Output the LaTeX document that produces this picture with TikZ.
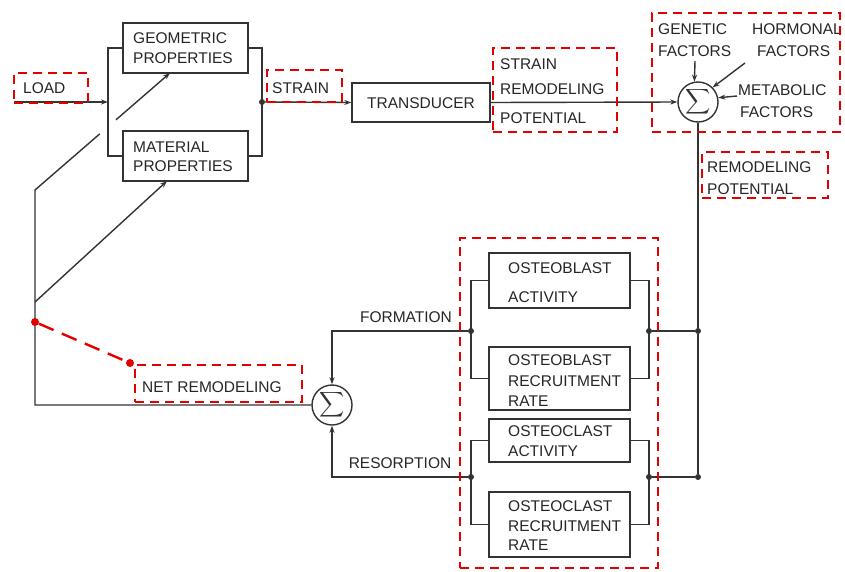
\documentclass[tikz,border=0pt]{standalone}
\usepackage{graphicx}
\usepackage{fontspec}
\setmainfont{Liberation Sans}
\usetikzlibrary{arrows.meta,calc}
\newcommand{\bigsum}{\scalebox{1.75}{$\displaystyle\sum$}}
\begin{document}
\begin{tikzpicture}[x=1pt,y=-1pt,
  ln/.style={draw=black!80, line width=1.4pt},
  arr/.style={ln, -{Stealth[length=7pt,width=5pt]}},
  blk/.style={draw=black!80, line width=1.4pt, rectangle, inner sep=0pt},
  lbl/.style={text=black!85, font=\fontsize{15.5}{15.5}\selectfont, anchor=west, inner sep=0pt},
  redbox/.style={draw=red!90!black, line width=2.4pt, dash pattern=on 9pt off 6pt, rectangle, inner sep=0pt},
  sumnode/.style={circle, draw=black!80, line width=1.4pt, minimum size=40pt, inner sep=0pt, text=black!80},
  jdot/.style={circle, fill=black!80, minimum size=6pt, inner sep=0pt},
  rdot/.style={circle, fill=red!90!black, minimum size=8pt, inner sep=0pt}]
\useasboundingbox (0,0) rectangle (845,571);

% ---------- top row blocks ----------
\node[blk, minimum width=125pt, minimum height=50pt] (geo) at (185.5,48) {};
\node[lbl] (geo1) at (133,38) {GEOMETRIC};
\node[lbl] (geo2) at (133,58) {PROPERTIES};
\node[blk, minimum width=125pt, minimum height=50pt] (mat) at (185.5,156) {};
\node[lbl] (mat1) at (133,147) {MATERIAL};
\node[lbl] (mat2) at (133,166) {PROPERTIES};
\node[blk, minimum width=138pt, minimum height=39pt] (tra) at (421,102.5) {};
\node[text=black!85, font=\fontsize{15.5}{15.5}\selectfont, inner sep=0pt] (tra1) at (421,103) {TRANSDUCER};
\node[sumnode] (s1) at (698,102) {};
\node[inner sep=0pt, text=black!80] (s1t) at (698,102) {\bigsum};

\coordinate (lb1) at (108,48);
\coordinate (lb2) at (108,156);
\coordinate (lbm) at (108,102);
\coordinate (rb1) at (262,48);
\coordinate (rb2) at (262,156);
\node[jdot] (jr) at (262,102) {};
\coordinate (loadstart) at (14,102);

\draw[ln] (geo.west) -- (lb1) -- (lb2) -- (mat.west);
\draw[ln] (geo.east) -- (rb1) -- (rb2) -- (mat.east);
\draw[arr] (loadstart) -- (lbm);
\draw[arr] (jr) -- (tra.west);
\draw[arr] (tra.east) -- (s1.west);

% factors
\node[lbl] (gen1) at (658,29) {GENETIC};
\node[lbl] (gen2) at (658,51) {FACTORS};
\node[lbl] (hor1) at (752,29) {HORMONAL};
\node[lbl] (hor2) at (757,51) {FACTORS};
\node[lbl] (met1) at (738,90) {METABOLIC};
\node[lbl] (met2) at (740,112) {FACTORS};
\coordinate (ga) at (695,61);
\coordinate (ha) at (745,63);
\coordinate (ma) at (737,96);
\draw[arr] (ga) -- (s1.100);
\draw[arr] (ha) -- (s1.45);
\draw[arr] (ma) -- (s1.12);

% labels with red boxes (top)
\node[lbl] (loadt) at (23,88) {LOAD};
\node[lbl] (straint) at (272,88) {STRAIN};
\node[lbl] (srp1) at (500,64) {STRAIN};
\node[lbl] (srp2) at (500,89) {REMODELING};
\node[lbl] (srp3) at (500,118) {POTENTIAL};
\node[lbl] (rp1) at (707,167) {REMODELING};
\node[lbl] (rp2) at (707,189) {POTENTIAL};

% ---------- lower part ----------
\node[blk, minimum width=141pt, minimum height=55pt] (ob1) at (559.5,280.5) {};
\node[lbl] (ob1a) at (508,268) {OSTEOBLAST};
\node[lbl] (ob1b) at (508,297) {ACTIVITY};
\node[blk, minimum width=141pt, minimum height=63pt] (ob2) at (559.5,378.5) {};
\node[lbl] (ob2a) at (508,360) {OSTEOBLAST};
\node[lbl] (ob2b) at (508,381) {RECRUITMENT};
\node[lbl] (ob2c) at (508,401) {RATE};
\node[blk, minimum width=141pt, minimum height=43pt] (oc1) at (559.5,440.5) {};
\node[lbl] (oc1a) at (508,431) {OSTEOCLAST};
\node[lbl] (oc1b) at (508,451) {ACTIVITY};
\node[blk, minimum width=141pt, minimum height=65pt] (oc2) at (559.5,524.5) {};
\node[lbl] (oc2a) at (508,506) {OSTEOCLAST};
\node[lbl] (oc2b) at (508,526) {RECRUITMENT};
\node[lbl] (oc2c) at (508,545) {RATE};

\coordinate (bl1) at (471,280.5);
\coordinate (bl2) at (471,378.5);
\coordinate (br1) at (649,280.5);
\coordinate (br2) at (649,378.5);
\coordinate (cl1) at (471,440.5);
\coordinate (cl2) at (471,524.5);
\coordinate (cr1) at (649,440.5);
\coordinate (cr2) at (649,524.5);
\node[jdot] (jbl) at (471,331) {};
\node[jdot] (jbr) at (649,331) {};
\node[jdot] (jcl) at (471,477) {};
\node[jdot] (jcr) at (649,477) {};
\node[jdot] (jv1) at (698,331) {};
\node[jdot] (jv2) at (698,477) {};

\draw[ln] (ob1.west) -- (bl1) -- (bl2) -- (ob2.west);
\draw[ln] (ob1.east) -- (br1) -- (br2) -- (ob2.east);
\draw[ln] (oc1.west) -- (cl1) -- (cl2) -- (oc2.west);
\draw[ln] (oc1.east) -- (cr1) -- (cr2) -- (oc2.east);
\draw[ln] (s1.south) -- (jv1) -- (jv2);
\draw[ln] (jbr) -- (jv1);
\draw[ln] (jcr) -- (jv2);

\node[sumnode] (s2) at (332,405) {};
\node[inner sep=0pt, text=black!80] (s2t) at (332,405) {\bigsum};
\draw[arr] (jbl) -| (s2.north);
\draw[arr] (jcl) -| (s2.south);
\node[text=black!85, font=\fontsize{15.5}{15.5}\selectfont, inner sep=0pt] (form) at (406,317) {FORMATION};
\node[text=black!85, font=\fontsize{15.5}{15.5}\selectfont, inner sep=0pt] (reso) at (400,463) {RESORPTION};

% feedback loop
\coordinate (fl1) at (35,405);
\coordinate (fl2) at (35,302);
\coordinate (fl3) at (35,190);
\coordinate (gtip) at (170,73);
\coordinate (mtip) at (167,181);
\draw[ln] (s2.west) -- (fl1) -- (fl2) -- (fl3) -- ($(fl3)!0.48!(gtip)$);
\draw[arr] ($(fl3)!0.60!(gtip)$) -- (gtip);
\draw[arr] (fl2) -- (mtip);

\node[lbl] (netr) at (142,387) {NET REMODELING};

% ---------- red annotations ----------
\node[redbox, minimum width=74pt, minimum height=30pt] (rLoad) at (51,88) {};
\node[redbox, minimum width=75pt, minimum height=32pt] (rStrain) at (304.5,86) {};
\node[redbox, minimum width=124pt, minimum height=84pt] (rSrp) at (555,90) {};
\node[redbox, minimum width=188pt, minimum height=119pt] (rFac) at (746,72.5) {};
\node[redbox, minimum width=126pt, minimum height=46pt] (rRp) at (765,175) {};
\node[redbox, minimum width=198pt, minimum height=330pt] (rOst) at (559,403) {};
\node[redbox, minimum width=167pt, minimum height=37pt] (rNet) at (218.5,383.5) {};
\node[rdot] (rd1) at (35,322) {};
\node[rdot] (rd2) at (130,363) {};
\draw[draw=red!90!black, line width=2.4pt, dash pattern=on 16pt off 9pt] (rd1) -- (rd2);
\end{tikzpicture}
\end{document}
